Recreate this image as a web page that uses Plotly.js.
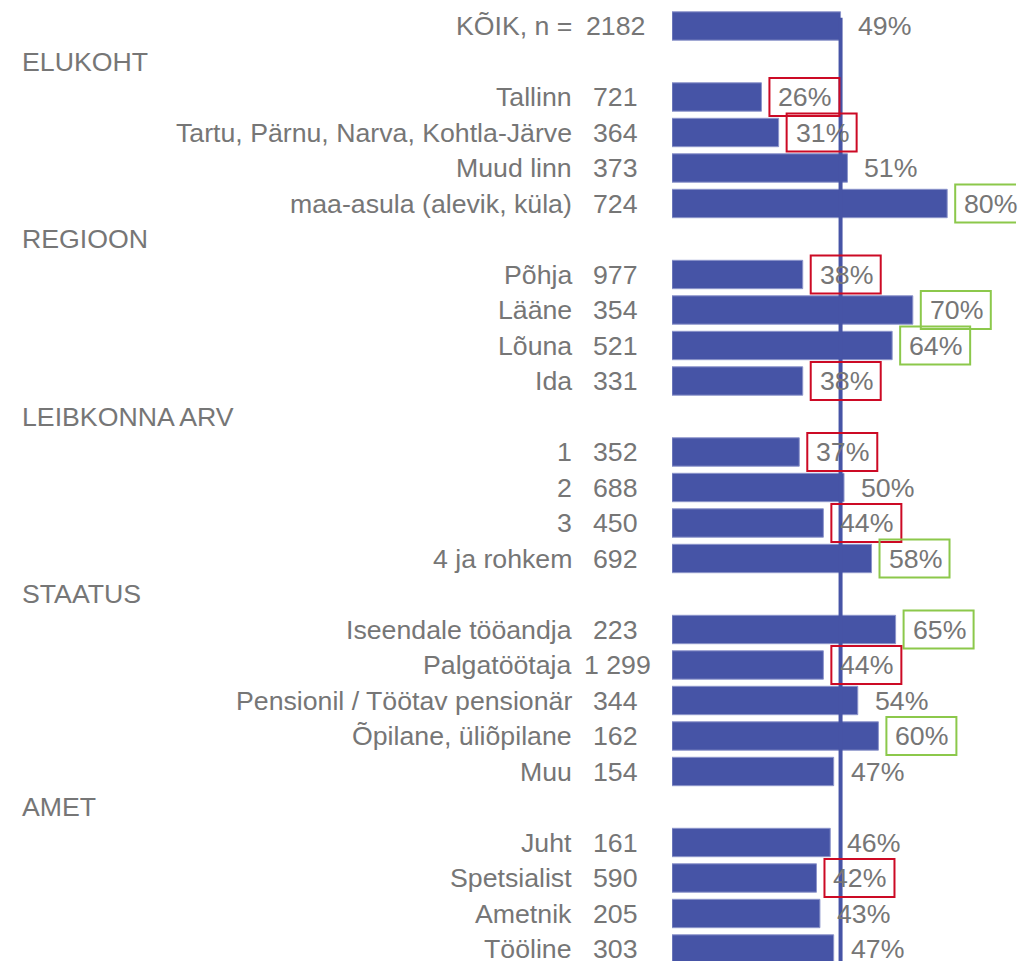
<!DOCTYPE html>
<html>
<head>
<meta charset="utf-8">
<script src="https://cdn.plot.ly/plotly-3.0.1.min.js"></script>
<style>
  html, body { margin: 0; padding: 0; background: #fff; }
  #chart { width: 1033px; height: 961px; }
</style>
</head>
<body>
<div id="chart"></div>
<script>
// rows from top to bottom; a row with no value is a section header
const rowLabels = [
  "KÕIK, n =", "ELUKOHT", "Tallinn", "Tartu, Pärnu, Narva, Kohtla-Järve", "Muud linn",
  "maa-asula (alevik, küla)", "REGIOON", "Põhja", "Lääne", "Lõuna", "Ida",
  "LEIBKONNA ARV", "1", "2", "3", "4 ja rohkem", "STAATUS", "Iseendale tööandja",
  "Palgatöötaja", "Pensionil / Töötav pensionär", "Õpilane, üliõpilane", "Muu",
  "AMET", "Juht", "Spetsialist", "Ametnik", "Tööline"
];
const rowN = [
  "2182", "", "721", "364", "373", "724", "", "977", "354", "521", "331",
  "", "352", "688", "450", "692", "", "223", "1 299", "344", "162", "154",
  "", "161", "590", "205", "303"
];
const rowPct = [
  49, null, 26, 31, 51, 80, null, 38, 70, 64, 38,
  null, 37, 50, 44, 58, null, 65, 44, 54, 60, 47,
  null, 46, 42, 43, 47
];
// significance vs. total: "low" = red box, "high" = green box
const rowFlag = [
  "", "", "low", "low", "", "high", "", "low", "high", "high", "low",
  "", "low", "", "low", "high", "", "high", "low", "", "high", "",
  "", "", "low", "", ""
];
const totalPct = 49;

const textGray = "#767676";
const barBlue = "#4654A6";
const fontFam = "Liberation Sans, Arial, sans-serif";
const fontSize = 26.7;

const barY = [], barX = [];
const annotations = [];
const shapes = [];

rowLabels.forEach((lab, i) => {
  const pct = rowPct[i];
  if (pct === null) {
    // section header
    annotations.push({
      xref: "paper", yref: "y", x: 0, y: i, xanchor: "left", yanchor: "middle",
      xshift: -652, text: lab, showarrow: false,
      font: { family: fontFam, size: fontSize, color: textGray }
    });
    return;
  }
  barY.push(i);
  barX.push(pct / 100);
  annotations.push({
    xref: "paper", yref: "y", x: 0, y: i, xanchor: "right", yanchor: "middle",
    xshift: -98, text: lab, showarrow: false,
    font: { family: fontFam, size: fontSize, color: textGray }
  });
  // wider counts spill a little to the right, as in the original
  const extra = Math.max(0, rowN[i].length - 3) * 6.5;
  annotations.push({
    xref: "paper", yref: "y", x: 0, y: i, xanchor: "right", yanchor: "middle",
    xshift: -32 + extra, text: rowN[i], showarrow: false,
    font: { family: fontFam, size: fontSize, color: textGray }
  });
  annotations.push({
    xref: "x", yref: "y", x: pct / 100, y: i, xanchor: "left", yanchor: "middle",
    xshift: 15, text: pct + "%", showarrow: false,
    font: { family: fontFam, size: fontSize, color: textGray }
  });
  if (rowFlag[i]) {
    shapes.push({
      type: "rect", xref: "x", yref: "y",
      xsizemode: "pixel", xanchor: pct / 100, x0: 8, x1: 78,
      ysizemode: "pixel", yanchor: i, y0: -19, y1: 19,
      line: { color: rowFlag[i] === "low" ? "#CC0A25" : "#8CC84B", width: 2 },
      fillcolor: "rgba(0,0,0,0)", layer: "above"
    });
  }
});

// line at the total value
shapes.unshift({
  type: "line", xref: "x", yref: "y",
  x0: totalPct / 100, x1: totalPct / 100, y0: -0.23, y1: 28,
  line: { color: barBlue, width: 4 }, layer: "above"
});

const bars = {
  type: "bar",
  orientation: "h",
  x: barX,
  y: barY,
  width: 0.8,
  marker: { color: barBlue, line: { color: "#8D95CB", width: 1 } },
  hoverinfo: "none"
};

const layout = {
  width: 1033,
  height: 961,
  margin: { l: 672, r: 17, t: 0, b: 0 },
  paper_bgcolor: "#fff",
  plot_bgcolor: "#fff",
  showlegend: false,
  xaxis: { range: [0, 1], visible: false, fixedrange: true },
  yaxis: { range: [26 + 12 / 35.5, -26 / 35.5], visible: false, fixedrange: true },
  annotations: annotations,
  shapes: shapes
};

Plotly.newPlot("chart", [bars], layout, { displayModeBar: false, staticPlot: true });
</script>
</body>
</html>
